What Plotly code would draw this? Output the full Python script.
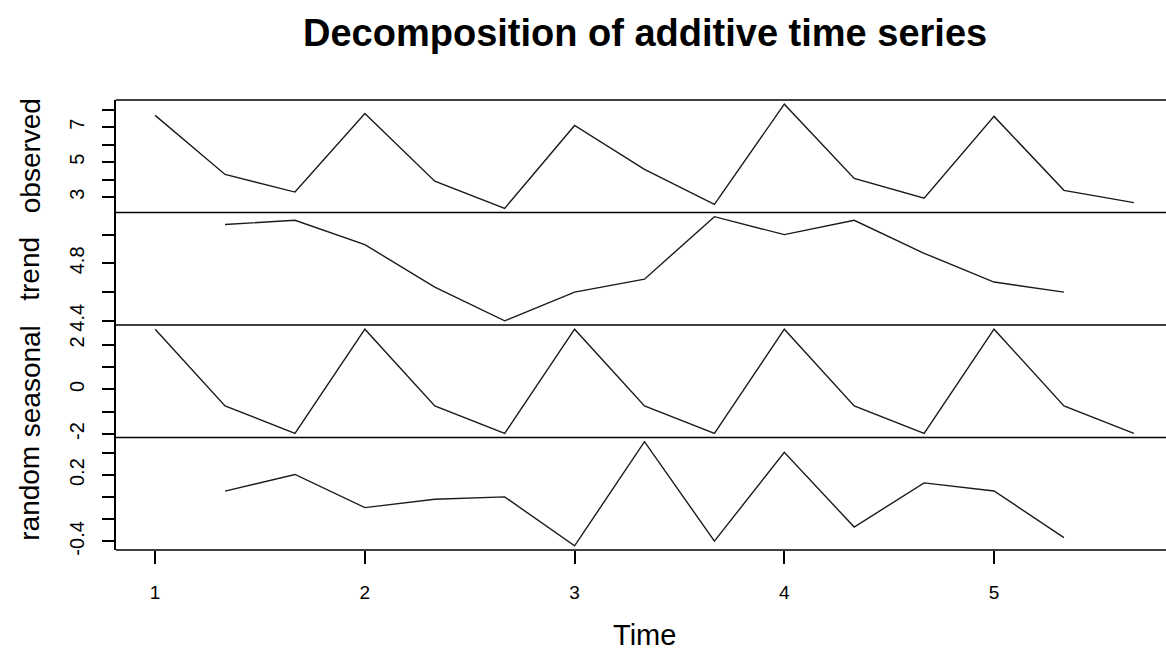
import plotly.graph_objects as go
from plotly.subplots import make_subplots

# ---- data ----
time = [1.0, 1.3333, 1.6667, 2.0, 2.3333, 2.6667, 3.0, 3.3333, 3.6667,
        4.0, 4.3333, 4.6667, 5.0, 5.3333, 5.6667]
observed = [7.68, 4.30, 3.29, 7.78, 3.91, 2.36, 7.10, 4.59, 2.59,
            8.32, 4.07, 2.94, 7.62, 3.39, 2.69]
trend = [None, 5.07, 5.10, 4.93, 4.635, 4.40, 4.60, 4.69, 5.125,
         5.00, 5.10, 4.87, 4.67, 4.60, None]
seasonal = [2.71, -0.74, -1.97, 2.71, -0.74, -1.97, 2.71, -0.74, -1.97,
            2.71, -0.74, -1.97, 2.71, -0.74, -1.97]
random_ = [None, 0.055, 0.206, -0.094, -0.018, 0.003, -0.44, 0.503, -0.397,
           0.406, -0.27, 0.13, 0.057, -0.366, None]

panel_names = ["observed", "trend", "seasonal", "random"]
panel_series = [observed, trend, seasonal, random_]
tick_vals = [[3, 4, 5, 6, 7, 8], [4.4, 4.6, 4.8, 5.0], [-2, -1, 0, 1, 2],
             [-0.4, -0.2, 0.0, 0.2, 0.4]]
tick_text = [["3", "", "5", "", "7", ""], ["4.4", "", "4.8", ""],
             ["-2", "", "0", "", "2"], ["-0.4", "", "", "0.2", ""]]
x_tick_vals = [1, 2, 3, 4, 5]
x_tick_text = ["1", "2", "3", "4", "5"]

FONT = "Liberation Sans, Arial, Helvetica, sans-serif"
W, H = 1166, 657
ML, MT, MB = 116, 100, 107

fig = make_subplots(rows=4, cols=1, shared_xaxes=True, vertical_spacing=0)

for i, ser in enumerate(panel_series):
    fig.add_trace(go.Scatter(x=time, y=ser, mode="lines",
                             line=dict(color="#1a1a1a", width=1.4),
                             connectgaps=False, showlegend=False,
                             hoverinfo="skip"), row=i + 1, col=1)
    vals = [v for v in ser if v is not None]
    lo, hi = min(vals), max(vals)
    pad = 0.04 * (hi - lo)
    fig.update_yaxes(range=[lo - pad, hi + pad], tickmode="array",
                     tickvals=tick_vals[i], ticktext=tick_text[i],
                     ticks="outside", ticklen=12, tickwidth=1.5,
                     tickcolor="black", tickangle=-90,
                     ticklabelstandoff=10,
                     tickfont=dict(family=FONT, size=20, color="black"),
                     showgrid=False, zeroline=False,
                     showline=True, linecolor="black", linewidth=1.5,
                     row=i + 1, col=1)

# R extends the time range by 4% on each side; the picture is cropped at the right
span = time[-1] - time[0]
x0 = time[0] - 0.04 * span
x1_full = time[-1] + 0.04 * span
full_px = 1057.0
plot_px = W - ML
x1 = x0 + (x1_full - x0) * plot_px / full_px

for r in range(1, 5):
    fig.update_xaxes(range=[x0, x1], showgrid=False, zeroline=False,
                     showline=False, row=r, col=1)
fig.update_xaxes(tickmode="array", tickvals=x_tick_vals, ticktext=x_tick_text,
                 ticks="outside", ticklen=13, tickwidth=1.5, tickcolor="black",
                 ticklabelstandoff=12, showticklabels=True,
                 tickfont=dict(family=FONT, size=19, color="black"),
                 row=4, col=1)

# panel borders (horizontal lines)
for k in range(5):
    fig.add_shape(type="line", xref="paper", yref="paper",
                  x0=0, x1=1, y0=k / 4, y1=k / 4,
                  line=dict(color="black", width=1.6))

ph = H - MT - MB
def py(pix):
    return (H - MB - pix) / ph

ann = []
ann.append(dict(text="<b>Decomposition of additive time series</b>",
                xref="paper", yref="paper", x=(644.5 - ML) / plot_px, y=py(33),
                xanchor="center", yanchor="middle", showarrow=False,
                font=dict(family=FONT, size=38, color="black")))
ann.append(dict(text="Time", xref="paper", yref="paper",
                x=(644.5 - ML) / plot_px, y=py(635), xanchor="center",
                yanchor="middle", showarrow=False,
                font=dict(family=FONT, size=29, color="black")))
for i, name in enumerate(panel_names):
    yc = 1 - (i + 0.5) / 4
    ann.append(dict(text=name, xref="paper", yref="paper",
                    x=(30 - ML) / plot_px, y=yc, xanchor="center",
                    yanchor="middle", textangle=-90, showarrow=False,
                    font=dict(family=FONT, size=28, color="black")))

fig.update_layout(width=W, height=H, margin=dict(l=ML, r=0, t=MT, b=MB),
                  paper_bgcolor="white", plot_bgcolor="white",
                  annotations=ann, showlegend=False)

fig.write_html("out.html")
